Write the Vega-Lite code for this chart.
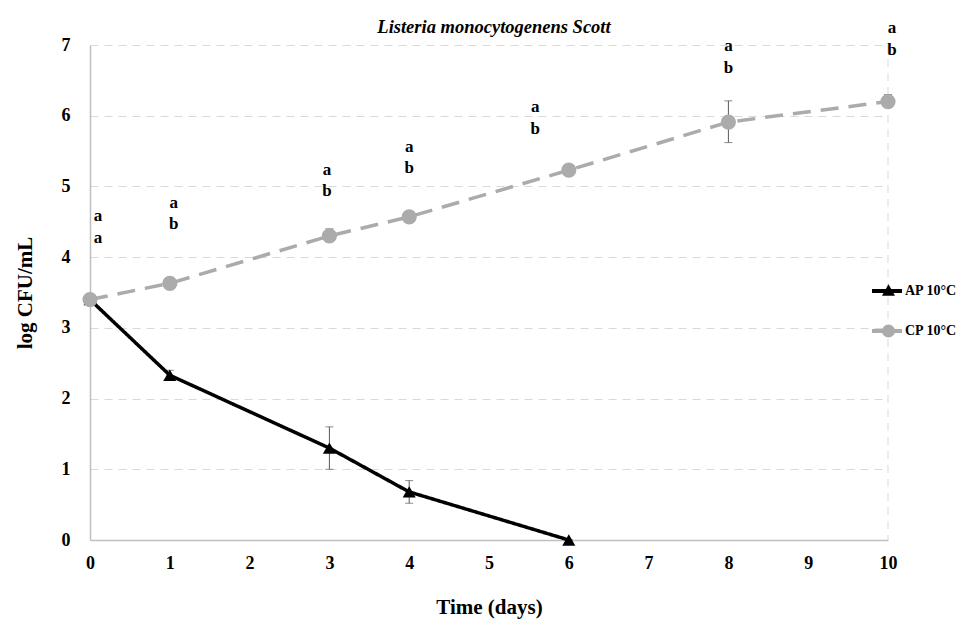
{
  "$schema": "https://vega.github.io/schema/vega-lite/v6.json",
  "width": 798,
  "height": 495,
  "autosize": {"type": "none"},
  "padding": {"left": 90, "top": 45, "right": 86, "bottom": 102},
  "background": "white",
  "title": {
    "text": "Listeria monocytogenens Scott",
    "font": "Liberation Serif",
    "fontSize": 18.5,
    "fontWeight": "bold",
    "fontStyle": "italic",
    "color": "#000000",
    "offset": 0,
    "dy": 17,
    "dx": 5,
    "anchor": "middle"
  },
  "config": {
    "view": {"stroke": null},
    "font": "Liberation Serif"
  },
  "resolve": {"scale": {"color": "independent", "size": "independent"}, "legend": {"color": "independent"}},
  "datasets": {
    "series": [
      {"day": 0, "value": 3.4, "lo": 3.4, "hi": 3.4, "series": "AP 10°C", "group": "AP"},
      {"day": 1, "value": 2.33, "lo": 2.27, "hi": 2.4, "series": "AP 10°C", "group": "AP"},
      {"day": 3, "value": 1.3, "lo": 1.0, "hi": 1.6, "series": "AP 10°C", "group": "AP"},
      {"day": 4, "value": 0.68, "lo": 0.52, "hi": 0.84, "series": "AP 10°C", "group": "AP"},
      {"day": 6, "value": 0.0, "lo": 0.0, "hi": 0.0, "series": "AP 10°C", "group": "AP"},
      {"day": 0, "value": 3.4, "lo": 3.4, "hi": 3.4, "series": "CP 10°C", "group": "CP"},
      {"day": 1, "value": 3.63, "lo": 3.6, "hi": 3.66, "series": "CP 10°C", "group": "CP"},
      {"day": 3, "value": 4.3, "lo": 4.22, "hi": 4.4, "series": "CP 10°C", "group": "CP"},
      {"day": 4, "value": 4.57, "lo": 4.53, "hi": 4.6, "series": "CP 10°C", "group": "CP"},
      {"day": 6, "value": 5.23, "lo": 5.2, "hi": 5.26, "series": "CP 10°C", "group": "CP"},
      {"day": 8, "value": 5.91, "lo": 5.62, "hi": 6.21, "series": "CP 10°C", "group": "CP"},
      {"day": 10, "value": 6.2, "lo": 6.15, "hi": 6.3, "series": "CP 10°C", "group": "CP"}
    ],
    "letters": [
      {"x": 0.1, "y": 4.58, "label": "a"},
      {"x": 0.1, "y": 4.27, "label": "a"},
      {"x": 1.05, "y": 4.77, "label": "a"},
      {"x": 1.05, "y": 4.47, "label": "b"},
      {"x": 2.97, "y": 5.23, "label": "a"},
      {"x": 2.97, "y": 4.94, "label": "b"},
      {"x": 4.0, "y": 5.56, "label": "a"},
      {"x": 4.0, "y": 5.26, "label": "b"},
      {"x": 5.58, "y": 6.12, "label": "a"},
      {"x": 5.58, "y": 5.81, "label": "b"},
      {"x": 8.0, "y": 6.99, "label": "a"},
      {"x": 8.0, "y": 6.68, "label": "b"},
      {"x": 10.05, "y": 7.24, "label": "a"},
      {"x": 10.05, "y": 6.93, "label": "b"}
    ]
  },
  "layer": [
    {
      "data": {"values": [{"x": 10}]},
      "mark": {"type": "rule", "color": "#d9d9d9", "strokeDash": [8, 6], "strokeWidth": 1},
      "encoding": {
        "x": {"field": "x", "type": "quantitative", "scale": {"domain": [0, 10]}}
      }
    },
    {
      "data": {"name": "series"},
      "mark": {"type": "rule", "color": "#595959", "strokeWidth": 1},
      "encoding": {
        "x": {"field": "day", "type": "quantitative"},
        "y": {"field": "lo", "type": "quantitative"},
        "y2": {"field": "hi"}
      }
    },
    {
      "data": {"name": "series"},
      "mark": {"type": "tick", "color": "#595959", "orient": "horizontal", "size": 8, "thickness": 1},
      "encoding": {
        "x": {"field": "day", "type": "quantitative"},
        "y": {"field": "lo", "type": "quantitative"}
      }
    },
    {
      "data": {"name": "series"},
      "mark": {"type": "tick", "color": "#595959", "orient": "horizontal", "size": 8, "thickness": 1},
      "encoding": {
        "x": {"field": "day", "type": "quantitative"},
        "y": {"field": "hi", "type": "quantitative"}
      }
    },
    {
      "data": {"name": "series"},
      "mark": {"type": "line", "strokeWidth": 3.5},
      "encoding": {
        "x": {
          "field": "day",
          "type": "quantitative",
          "scale": {"domain": [0, 10], "nice": false},
          "axis": {
            "title": "Time (days)",
            "titleFont": "Liberation Serif",
            "titleFontSize": 21,
            "titleFontWeight": "bold",
            "titleColor": "#000000",
            "titlePadding": 24,
            "labelFont": "Liberation Serif",
            "labelFontSize": 18,
            "labelFontWeight": "bold",
            "labelColor": "#000000",
            "labelPadding": 14,
            "labelOverlap": false,
            "labelFlush": false,
            "values": [0, 1, 2, 3, 4, 5, 6, 7, 8, 9, 10],
            "format": "d",
            "ticks": false,
            "grid": false,
            "domainColor": "#bfbfbf",
            "domainWidth": 1.5
          }
        },
        "y": {
          "field": "value",
          "type": "quantitative",
          "scale": {"domain": [0, 7], "nice": false},
          "axis": {
            "title": "log CFU/mL",
            "titleFont": "Liberation Serif",
            "titleFontSize": 21,
            "titleFontWeight": "bold",
            "titleColor": "#000000",
            "titlePadding": 26,
            "labelFont": "Liberation Serif",
            "labelFontSize": 18,
            "labelFontWeight": "bold",
            "labelColor": "#000000",
            "labelPadding": 20,
            "labelOverlap": false,
            "labelFlush": false,
            "values": [0, 1, 2, 3, 4, 5, 6, 7],
            "format": "d",
            "ticks": false,
            "grid": true,
            "gridColor": "#d9d9d9",
            "gridDash": [8, 6],
            "gridWidth": 1,
            "domainColor": "#bfbfbf",
            "domainWidth": 1.5
          }
        },
        "color": {
          "field": "series",
          "type": "nominal",
          "scale": {"domain": ["AP 10°C", "CP 10°C"], "range": ["#000000", "#ababab"]},
          "legend": {
            "orient": "none",
            "legendX": 780,
            "legendY": 229,
            "title": null,
            "symbolType": "stroke",
            "labelFont": "Liberation Serif",
            "labelFontSize": 14,
            "labelFontWeight": "bold",
            "labelColor": "#000000",
            "labelOffset": 1,
            "rowPadding": 15,
            "symbolSize": 900,
            "symbolStrokeWidth": 4,
            "zindex": 1,
            "encode": {"symbols": {"update": {"strokeDash": {"value": [1, 0]}}}}
          }
        },
        "strokeDash": {
          "field": "series",
          "type": "nominal",
          "scale": {"domain": ["AP 10°C", "CP 10°C"], "range": [[1, 0], [18, 10]]},
          "legend": null
        }
      }
    },
    {
      "data": {"name": "series"},
      "mark": {"type": "point", "filled": true, "opacity": 1},
      "encoding": {
        "x": {"field": "day", "type": "quantitative"},
        "y": {"field": "value", "type": "quantitative"},
        "color": {
          "field": "group",
          "type": "nominal",
          "scale": {"domain": ["AP", "CP"], "range": ["#000000", "#ababab"]},
          "legend": null
        },
        "shape": {
          "field": "group",
          "type": "nominal",
          "scale": {"domain": ["AP", "CP"], "range": ["triangle-up", "circle"]},
          "legend": {
            "orient": "none",
            "legendX": 791.5,
            "legendY": 238,
            "title": null,
            "labelOpacity": 0,
            "labelFontSize": 14,
            "rowPadding": 27,
            "symbolSize": 170,
            "symbolStrokeWidth": 0,
            "symbolOpacity": 1,
            "symbolFillColor": "#000000",
            "zindex": 2,
            "encode": {
              "symbols": {
                "update": {
                  "fill": {"signal": "datum.value === 'AP' ? '#000000' : '#ababab'"},
                  "fillOpacity": {"value": 1}
                }
              }
            }
          }
        },
        "size": {
          "field": "group",
          "type": "nominal",
          "scale": {"domain": ["AP", "CP"], "range": [170, 230]},
          "legend": null
        }
      }
    },
    {
      "data": {"name": "letters"},
      "mark": {"type": "text", "font": "Liberation Serif", "fontSize": 17, "fontWeight": "bold", "color": "#000000", "baseline": "middle", "align": "center"},
      "encoding": {
        "x": {"field": "x", "type": "quantitative"},
        "y": {"field": "y", "type": "quantitative"},
        "text": {"field": "label"}
      }
    }
  ]
}
